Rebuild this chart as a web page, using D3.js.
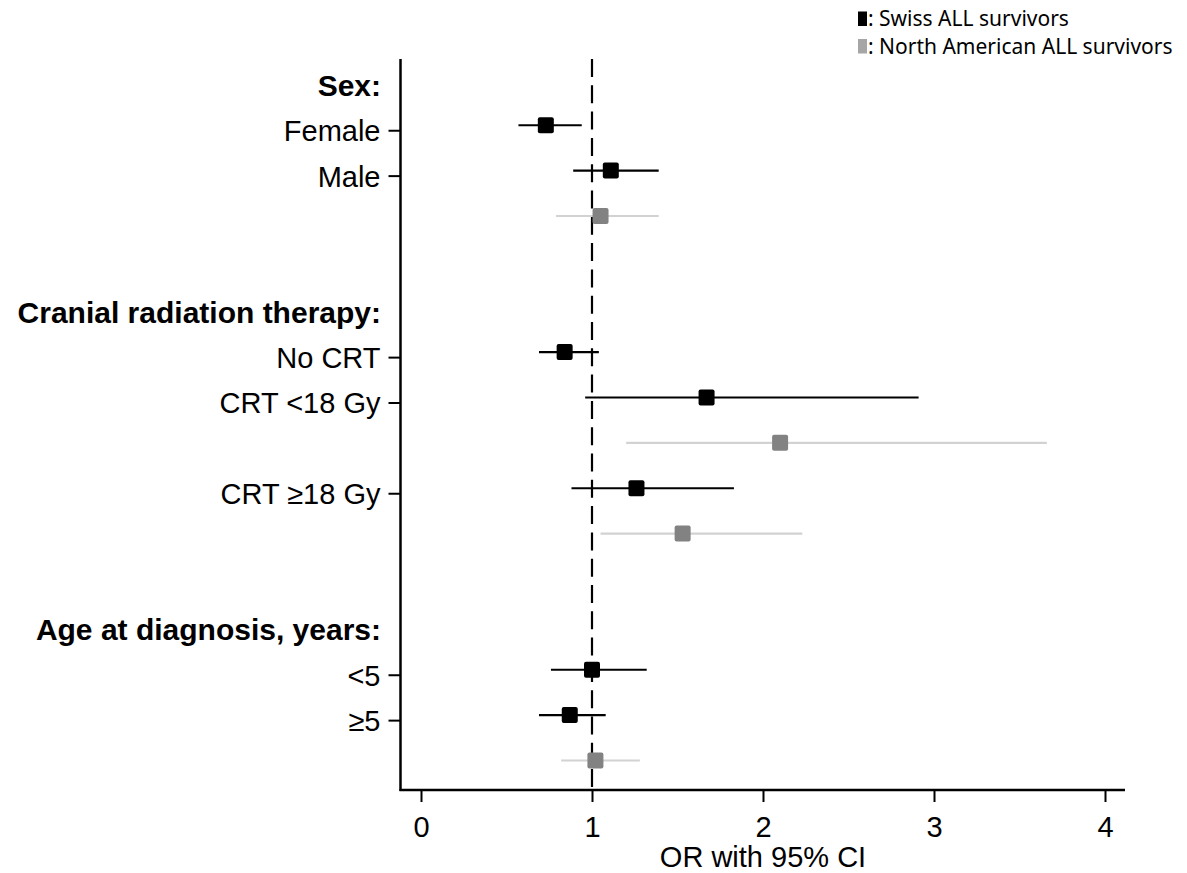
<!DOCTYPE html>
<meta charset="utf-8">
<head>
<style type='text/css'>
  body {
    margin: 0;
    background: #fff;
  }
  .axis text {
    font-family: 'Liberation Sans', Arial, sans-serif;
    font-size: 29px;
    fill: #000;
  }
  .axis .domain {
    display: none;
  }
  .axis line {
    stroke: #000;
    stroke-width: 2;
  }
  .header {
    font-family: 'Liberation Sans', Arial, sans-serif;
    font-size: 30px;
    font-weight: bold;
  }
  .legend text {
    font-family: 'Noto Sans', sans-serif;
    font-size: 21px;
  }
</style>
</head>
<body>
<svg id="chart" width="1187" height="873"></svg>
<script src="https://d3js.org/d3.v7.min.js"></script>
<script>
// row labels, top to bottom (blank rows hold the North American estimates)
var rowLabels = ["Sex:", "Female", "Male", "", "",
                 "Cranial radiation therapy:", "No CRT", "CRT <18 Gy", "", "CRT \u226518 Gy", "", "",
                 "Age at diagnosis, years:", "<5", "\u22655", ""];
var headerRows = [0, 5, 12];
var tickRows = [1, 2, 6, 7, 9, 13, 14];

// Swiss ALL survivors
var swissRows = [1, 2, 6, 7, 9, 13, 14];
var swissOR   = [0.73, 1.11, 0.84, 1.67, 1.26, 1.00, 0.87];
var swissLo   = [0.57, 0.89, 0.69, 0.96, 0.88, 0.76, 0.69];
var swissHi   = [0.94, 1.39, 1.04, 2.91, 1.83, 1.32, 1.08];

// North American ALL survivors
var naRows = [3, 8, 10, 15];
var naOR   = [1.05, 2.10, 1.53, 1.02];
var naLo   = [0.79, 1.20, 1.05, 0.82];
var naHi   = [1.39, 3.66, 2.23, 1.28];

var xTicks = [0, 1, 2, 3, 4];
var legendLabels = [": Swiss ALL survivors", ": North American ALL survivors"];

var svg = d3.select("#chart");

var x = d3.scaleLinear().domain([0, 4]).range([421, 1105]);
var y = d3.scaleLinear().domain([-0.57, 15.54]).range([59, 790]);

var plotLeft = 400.5, plotRight = 1125, plotTop = y.range()[0], plotBottom = y.range()[1];
var markOffset = -5; // estimates sit a little above the label tick

// reference line at OR = 1
svg.append("line")
    .attr("x1", x(1)).attr("x2", x(1))
    .attr("y1", plotTop).attr("y2", plotBottom)
    .attr("stroke", "#000")
    .attr("stroke-width", 2.2)
    .attr("stroke-dasharray", "18,8.3");

// axes
svg.append("g")
    .attr("class", "axis")
    .attr("transform", "translate(0," + plotBottom + ")")
    .call(d3.axisBottom(x).tickValues(xTicks).tickSize(12).tickPadding(14).tickFormat(d3.format("d")));

svg.append("g")
    .attr("class", "axis")
    .attr("transform", "translate(" + plotLeft + ",0)")
    .call(d3.axisLeft(y).tickValues(tickRows).tickSize(12).tickPadding(8)
      .tickFormat(function(i) { return rowLabels[i]; }))
  .selectAll("text")
    .attr("dy", "0.36em");

svg.append("line")
    .attr("x1", plotLeft).attr("x2", plotLeft)
    .attr("y1", plotTop).attr("y2", plotBottom + 1)
    .attr("stroke", "#000").attr("stroke-width", 2.5);

svg.append("line")
    .attr("x1", plotLeft - 1).attr("x2", plotRight)
    .attr("y1", plotBottom).attr("y2", plotBottom)
    .attr("stroke", "#000").attr("stroke-width", 2.5);

// section headers
svg.append("g").selectAll("text")
    .data(headerRows)
  .enter().append("text")
    .attr("class", "header")
    .attr("x", 381)
    .attr("y", function(i) { return y(i); })
    .attr("dy", "0.36em")
    .attr("text-anchor", "end")
    .text(function(i) { return rowLabels[i]; });

svg.append("text")
    .attr("x", x(2))
    .attr("y", 867)
    .attr("text-anchor", "middle")
    .style("font-family", "'Liberation Sans', Arial, sans-serif")
    .style("font-size", "29px")
    .text("OR with 95% CI");

// draw one series of estimates with CIs
function drawSeries(rows, est, lo, hi, lineColor, boxColor) {
  var g = svg.append("g");
  var data = rows.map(function(r, i) { return {row: r, or: est[i], lo: lo[i], hi: hi[i]}; });

  g.selectAll("line")
      .data(data)
    .enter().append("line")
      .attr("x1", function(d) { return x(d.lo); })
      .attr("x2", function(d) { return x(d.hi); })
      .attr("y1", function(d) { return y(d.row) + markOffset; })
      .attr("y2", function(d) { return y(d.row) + markOffset; })
      .attr("stroke", lineColor)
      .attr("stroke-width", 2.2);

  g.selectAll("rect")
      .data(data)
    .enter().append("rect")
      .attr("x", function(d) { return x(d.or) - 8; })
      .attr("y", function(d) { return y(d.row) + markOffset - 8; })
      .attr("width", 16)
      .attr("height", 16)
      .attr("rx", 2)
      .attr("fill", boxColor);
}

drawSeries(naRows, naOR, naLo, naHi, "#d2d2d2", "#828282");
drawSeries(swissRows, swissOR, swissLo, swissHi, "#000", "#000");

// legend
var legend = svg.append("g")
    .attr("class", "legend")
  .selectAll("g")
    .data(legendLabels)
  .enter().append("g")
    .attr("transform", function(d, i) { return "translate(858," + (11.5 + i * 27.5) + ")"; });

legend.append("rect")
    .attr("width", 9)
    .attr("height", 14.5)
    .attr("fill", function(d, i) { return i === 0 ? "#000" : "#a6a6a6"; });

legend.append("text")
    .attr("x", 10)
    .attr("y", 14.5)
    .text(function(d) { return d; });
</script>
</body>
